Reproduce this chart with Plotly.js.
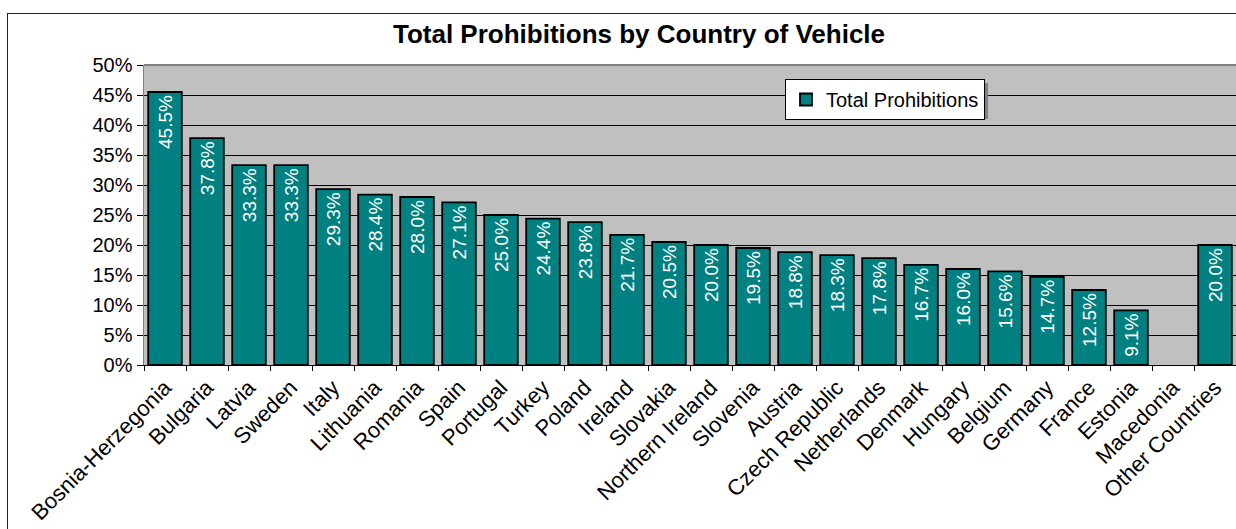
<!DOCTYPE html>
<html>
<head>
<meta charset="utf-8">
<script src="https://cdn.plot.ly/plotly-3.0.1.min.js"></script>
<style>
  html, body { margin: 0; padding: 0; background: #fff; overflow: hidden; }
  #frame { position: absolute; left: 7px; top: 13px; width: 1300px; height: 600px; border-left: 1.5px solid #222; border-top: 1.5px solid #222; box-sizing: border-box; }
  #chart { position: absolute; left: 0; top: 0; width: 1236px; height: 529px; }
</style>
</head>
<body>
<div id="frame"></div>
<div id="chart"></div>
<script>
const countries = ["Bosnia-Herzegonia","Bulgaria","Latvia","Sweden","Italy","Lithuania","Romania","Spain","Portugal","Turkey","Poland","Ireland","Slovakia","Northern Ireland","Slovenia","Austria","Czech Republic","Netherlands","Denmark","Hungary","Belgium","Germany","France","Estonia","Macedonia","Other Countries"];
const totalProhibitions = [45.5,37.8,33.3,33.3,29.3,28.4,28.0,27.1,25.0,24.4,23.8,21.7,20.5,20.0,19.5,18.8,18.3,17.8,16.7,16.0,15.6,14.7,12.5,9.1,null,20.0];
const yTickVals = [0,5,10,15,20,25,30,35,40,45,50];
const yTickText = ["0%","5%","10%","15%","20%","25%","30%","35%","40%","45%","50%"];

const FONT = "Liberation Sans, Arial, sans-serif";

const trace = {
  type: "bar",
  name: "Total Prohibitions",
  x: countries,
  y: totalProhibitions,
  marker: { color: "#008080", line: { color: "#000000", width: 1.8 } },
  texttemplate: "%{y:.1f}%",
  textposition: "inside",
  insidetextanchor: "end",
  textangle: -90,
  textfont: { family: FONT, size: 19, color: "#ffffff" },
  constraintext: "none",
  cliponaxis: false,
  hoverinfo: "x+y"
};

const layout = {
  width: 1236,
  height: 529,
  margin: { l: 144, r: 0, t: 65, b: 164, pad: 0 },
  paper_bgcolor: "rgba(0,0,0,0)",
  plot_bgcolor: "#C0C0C0",
  bargap: 0.2,
  showlegend: true,
  font: { family: FONT, size: 20, color: "#000" },
  title: {
    text: "<b>Total Prohibitions by Country of Vehicle</b>",
    font: { family: FONT, size: 26, color: "#000" },
    x: 639/1236, xanchor: "center",
    y: 1 - 34/529, yanchor: "middle"
  },
  xaxis: {
    type: "category",
    tickangle: -45,
    ticks: "outside",
    tickson: "boundaries",
    ticklen: 5,
    tickcolor: "#000",
    showline: true,
    linecolor: "#000",
    linewidth: 1,
    showgrid: false,
    tickfont: { family: FONT, size: 22, color: "#000" },
    fixedrange: true
  },
  yaxis: {
    range: [0, 50],
    tickvals: yTickVals,
    ticktext: yTickText,
    ticks: "outside",
    ticklen: 6,
    tickcolor: "#000",
    showline: true,
    linecolor: "#808080",
    linewidth: 1.5,
    showgrid: true,
    gridcolor: "#000",
    gridwidth: 1,
    zeroline: false,
    tickfont: { family: FONT, size: 20, color: "#000" },
    fixedrange: true
  },
  shapes: [
    { type: "line", xref: "paper", yref: "paper", x0: 0, x1: 1, y0: 1, y1: 1, line: { color: "#808080", width: 2 } },
    { type: "rect", xref: "paper", yref: "paper", x0: (789-144)/1092, x1: (988-144)/1092, y0: (365-119)/300, y1: (365-83)/300, fillcolor: "#808080", line: { width: 0 }, layer: "above" }
  ],
  legend: {
    x: (785-144)/1092, xanchor: "left",
    y: (365-79)/300, yanchor: "top",
    bgcolor: "#ffffff",
    bordercolor: "#000",
    borderwidth: 1,
    font: { family: FONT, size: 20, color: "#000" },
    itemwidth: 30
  }
};

Plotly.newPlot("chart", [trace], layout, { displayModeBar: false, staticPlot: true });
</script>
</body>
</html>
